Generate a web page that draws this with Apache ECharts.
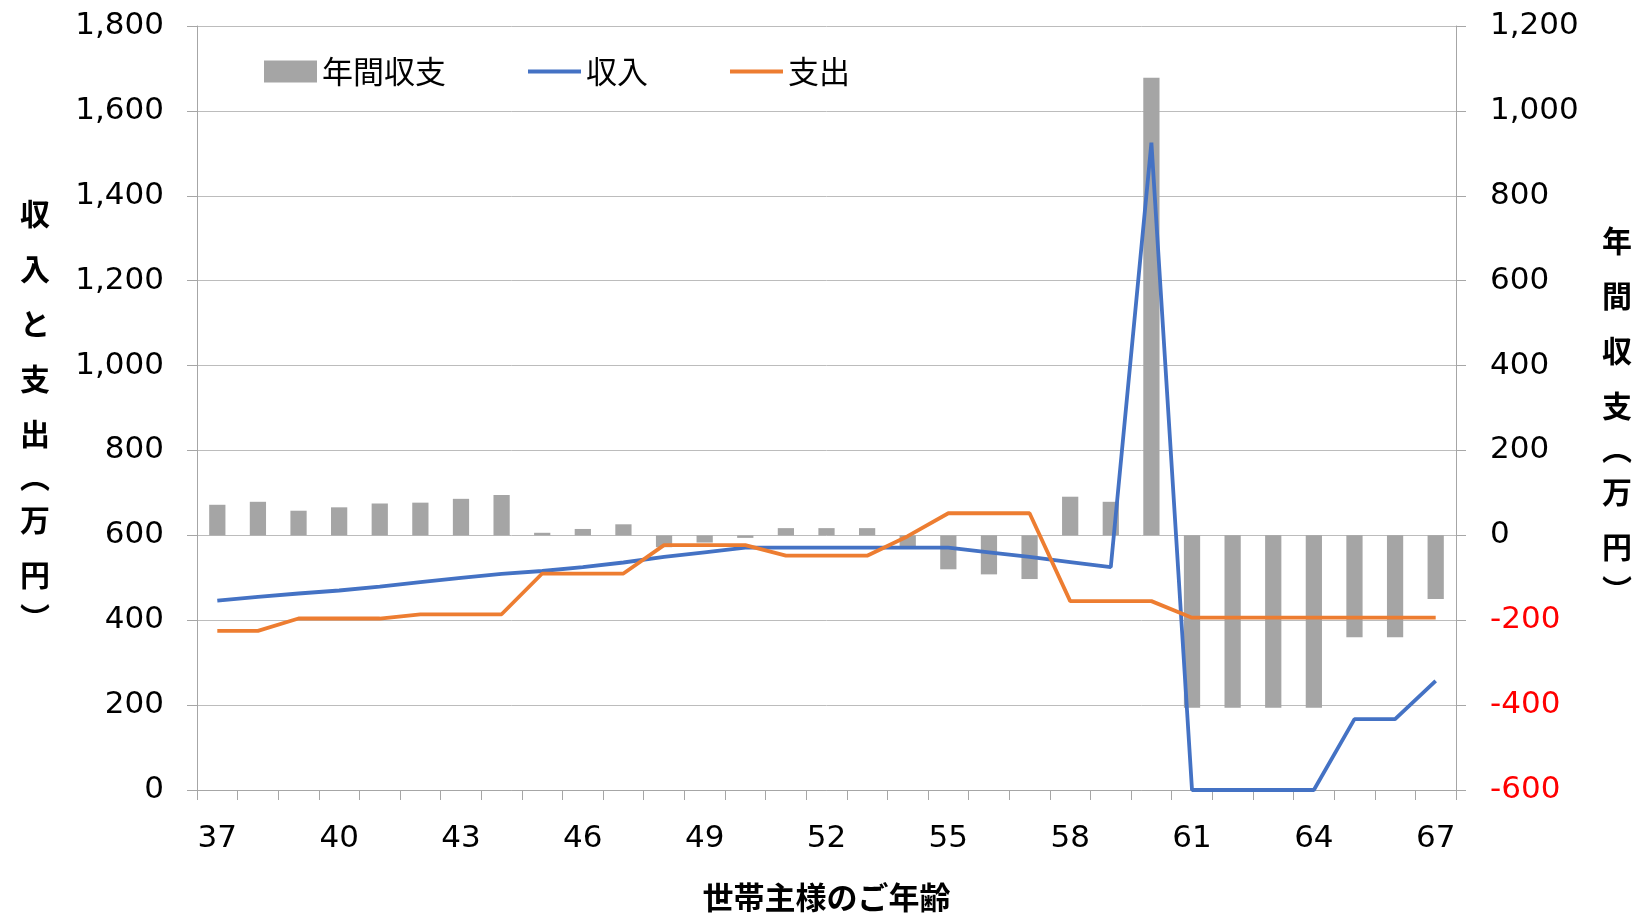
<!DOCTYPE html>
<html>
<head>
<meta charset="utf-8">
<script src="https://cdn.jsdelivr.net/npm/echarts@6/dist/echarts.min.js"></script>
<style>
  html, body { margin: 0; padding: 0; background: #fff; }
  #chart { width: 1649px; height: 913px; }
</style>
</head>
<body>
<div id="chart"></div>
<script>
// 世帯主の年齢ごとの収入・支出（万円）と年間収支
const ages = [37, 38, 39, 40, 41, 42, 43, 44, 45, 46, 47, 48, 49, 50, 51, 52, 53, 54, 55, 56, 57, 58, 59, 60, 61, 62, 63, 64, 65, 66, 67];
const income = [446, 455, 463, 470, 479, 490, 500, 509, 516, 525, 536, 549, 560, 571, 571, 571, 571, 571, 571, 560, 549, 537, 525, 1525, 0, 0, 0, 0, 167, 167, 257];
const expense = [375, 375, 404, 404, 404, 414, 414, 414, 510, 510, 510, 577, 577, 577, 552, 552, 552, 598, 652, 652, 652, 445, 445, 445, 406, 406, 406, 406, 406, 406, 406];
const balance = [72, 79, 58, 66, 75, 77, 86, 95, 6, 15, 26, -28, -17, -6, 17, 17, 17, -26, -80, -92, -103, 91, 79, 1078, -406, -406, -406, -406, -240, -240, -150];

const leftTicks = { min: 0, max: 1800, interval: 200 };
const rightTicks = { min: -600, max: 1200, interval: 200 };

const FONT = '"DejaVu Sans", "Noto Sans CJK JP", sans-serif';
const CJK = '"Noto Sans CJK JP", sans-serif';
const AXIS_GRAY = '#a6a6a6';
const GRID_GRAY = '#bcbcbc';
const LABEL_SIZE = 31;
const BLUE = '#4472c4';
const ORANGE = '#ed7d31';

const fmt = v => Number(v).toLocaleString('en-US');

// vertical stacked axis title
function stacked(chars) {
  return chars.map(c => (c === '︵' || c === '︶') ? '{p|' + c + '}' : '{a|' + c + '}').join('\n');
}
const titleRich = {
  a: { fontFamily: CJK, fontWeight: 'bold', fontSize: 30, lineHeight: 55, color: '#000', align: 'center' },
  p: { fontFamily: CJK, fontWeight: 'bold', fontSize: 30, lineHeight: 31, color: '#000', align: 'center' }
};

const chart = echarts.init(document.getElementById('chart'), null, { renderer: 'canvas' });
chart.setOption({
  animation: false,
  backgroundColor: '#fff',
  grid: { left: 197, right: 193, top: 26, bottom: 123, containLabel: false, outerBoundsMode: 'none' },
  legend: {
    left: 259,
    top: 51,
    itemWidth: 53,
    itemHeight: 22,
    itemGap: 80,
    textStyle: { fontFamily: CJK, fontSize: 31, color: '#000' },
    data: [
      { name: '年間収支', icon: 'rect' },
      { name: '収入', itemStyle: { opacity: 0 }, lineStyle: { color: BLUE, width: 4 } },
      { name: '支出', itemStyle: { opacity: 0 }, lineStyle: { color: ORANGE, width: 4 } }
    ]
  },
  xAxis: {
    type: 'category',
    data: ages,
    boundaryGap: true,
    name: '世帯主様のご年齢',
    nameLocation: 'middle',
    nameGap: 107,
    nameTextStyle: { fontFamily: CJK, fontWeight: 'bold', fontSize: 31, color: '#000', verticalAlign: 'middle' },
    axisLine: { show: true, onZero: false, lineStyle: { color: AXIS_GRAY, width: 1 } },
    axisTick: { show: true, alignWithLabel: false, interval: 0, length: 10, lineStyle: { color: AXIS_GRAY } },
    axisLabel: { interval: 2, margin: 33, fontFamily: FONT, fontSize: LABEL_SIZE, color: '#000' },
    splitLine: { show: false }
  },
  yAxis: [
    {
      type: 'value',
      position: 'left',
      min: leftTicks.min, max: leftTicks.max, interval: leftTicks.interval,
      name: stacked(['収', '入', 'と', '支', '出', '︵', '万', '円', '︶']),
      nameLocation: 'middle',
      nameRotate: 0,
      nameGap: 162,
      nameTextStyle: { align: 'center', verticalAlign: 'middle', rich: titleRich, padding: [3, 0, 0, 0] },
      axisLine: { show: true, lineStyle: { color: AXIS_GRAY, width: 1 } },
      axisTick: { show: true, length: 10, lineStyle: { color: AXIS_GRAY } },
      axisLabel: { margin: 33, fontFamily: FONT, fontSize: LABEL_SIZE, color: '#000', formatter: fmt },
      splitLine: { show: true, lineStyle: { color: GRID_GRAY, width: 1 } }
    },
    {
      type: 'value',
      position: 'right',
      min: rightTicks.min, max: rightTicks.max, interval: rightTicks.interval,
      name: stacked(['年', '間', '収', '支', '︵', '万', '円', '︶']),
      nameLocation: 'middle',
      nameRotate: 0,
      nameGap: 161,
      nameTextStyle: { align: 'center', verticalAlign: 'middle', rich: titleRich, padding: [3, 0, 0, 0] },
      axisLine: { show: true, lineStyle: { color: AXIS_GRAY, width: 1 } },
      axisTick: { show: true, length: 10, lineStyle: { color: AXIS_GRAY } },
      axisLabel: {
        margin: 34, fontFamily: FONT, fontSize: LABEL_SIZE,
        color: v => (Number(v) < 0 ? '#ff0000' : '#000'),
        formatter: fmt
      },
      splitLine: { show: false }
    }
  ],
  series: [
    {
      name: '年間収支',
      type: 'bar',
      yAxisIndex: 1,
      data: balance,
      barWidth: '40%',
      itemStyle: { color: '#a5a5a5' }
    },
    {
      name: '収入',
      type: 'line',
      yAxisIndex: 0,
      data: income,
      symbol: 'none',
      lineStyle: { color: BLUE, width: 3.8 },
      itemStyle: { color: BLUE }
    },
    {
      name: '支出',
      type: 'line',
      yAxisIndex: 0,
      data: expense,
      symbol: 'none',
      lineStyle: { color: ORANGE, width: 3.8 },
      itemStyle: { color: ORANGE }
    }
  ]
});
</script>
</body>
</html>
